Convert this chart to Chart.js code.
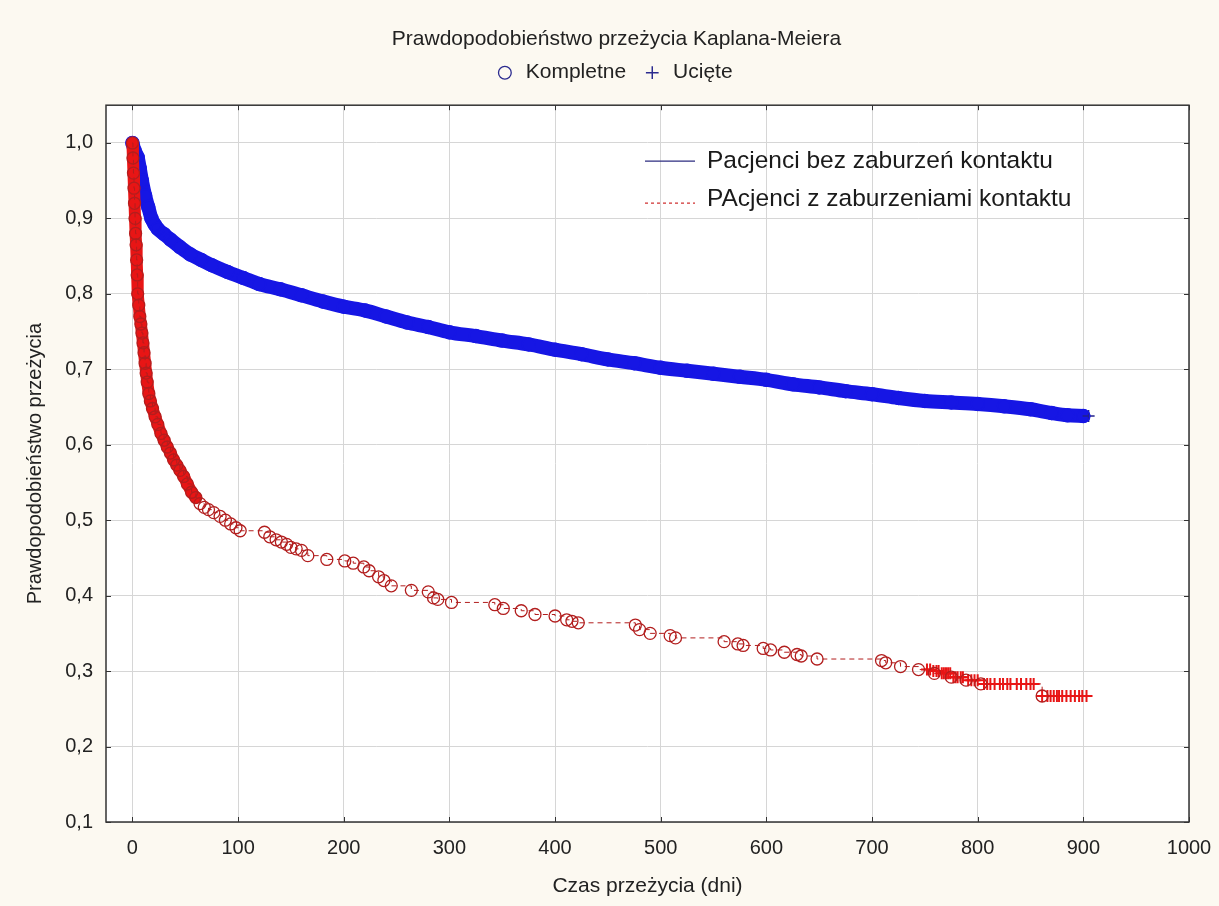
<!DOCTYPE html>
<html>
<head>
<meta charset="utf-8">
<script src="https://cdn.jsdelivr.net/npm/chart.js@4.4.1/dist/chart.umd.min.js"></script>
<style>
html,body{margin:0;padding:0;background:#fcf9f1;}
</style>
</head>
<body>
<canvas id="km" width="1219" height="906"></canvas>
<script>
// ===== DANE =====
const xTicks = [0,100,200,300,400,500,600,700,800,900,1000];
const yTicks = [0.1,0.2,0.3,0.4,0.5,0.6,0.7,0.8,0.9,1.0];

// pacjenci bez zaburzen kontaktu (niebieski)
const blueT = [0,2,5,7,9,12,15,18,21,24,30,36,45,55,65,75,90,105,120,140,160,180,200,220,240,260,280,300,325,350,375,400,425,450,475,500,525,550,575,600,625,650,675,700,725,750,775,800,825,850,870,885,900];
const blueS = [1.0,0.99,0.981,0.966,0.95,0.93,0.915,0.90,0.892,0.886,0.879,0.872,0.862,0.852,0.845,0.838,0.829,0.821,0.813,0.806,0.798,0.790,0.783,0.778,0.770,0.762,0.756,0.749,0.744,0.738,0.733,0.726,0.720,0.713,0.708,0.702,0.698,0.694,0.690,0.686,0.680,0.676,0.671,0.667,0.662,0.658,0.656,0.654,0.651,0.647,0.642,0.639,0.638];
const blueCensT = [905];
const blueCensS = [0.638];

// pacjenci z zaburzeniami kontaktu (czerwony) - zdarzenia
const redT = [0,0.5,1,1.5,2,2.5,3,3.5,4,4.5,5,6,7,8,9,10,11,12,13,14,15.5,17,19,21.5,24,27,30,33,36,39,42,45,48.5,52,56,60,64,68,72,77,83,88,93,98,102,
  125,130,136,141,146,150,155,160,166,184,201,209,219,224,233,238,245,264,280,285,289,302,343,351,368,381,400,411,416,422,476,480,490,509,514,560,573,578,597,604,617,629,633,648,709,713,727,744,759,775,789,803,861];
const redS = [1.0,0.98,0.96,0.94,0.92,0.90,0.88,0.865,0.845,0.825,0.80,0.785,0.77,0.76,0.748,0.735,0.722,0.708,0.695,0.683,0.668,0.658,0.648,0.637,0.627,0.615,0.606,0.597,0.589,0.580,0.573,0.566,0.558,0.548,0.537,0.530,0.522,0.517,0.514,0.510,0.505,0.500,0.495,0.490,0.486,
  0.484,0.478,0.474,0.471,0.468,0.464,0.462,0.460,0.453,0.448,0.446,0.443,0.438,0.433,0.425,0.420,0.413,0.407,0.405,0.397,0.395,0.391,0.388,0.383,0.380,0.375,0.373,0.368,0.366,0.364,0.361,0.355,0.350,0.347,0.344,0.339,0.336,0.334,0.330,0.328,0.325,0.322,0.320,0.316,0.314,0.311,0.306,0.302,0.297,0.292,0.288,0.283,0.267];
// ucięte (cenzurowane)
const redCensT = [752,755,758,761,763,766,768,770,772,774,777,779,781,784,786,791,794,797,800,806,809,812,816,821,824,828,831,837,841,846,850,853,861,866,869,872,875,877,880,884,888,892,896,899,903];
const redCensS = [0.302,0.302,0.300,0.300,0.300,0.297,0.297,0.297,0.297,0.297,0.292,0.292,0.292,0.292,0.292,0.288,0.288,0.288,0.288,0.283,0.283,0.283,0.283,0.283,0.283,0.283,0.283,0.283,0.283,0.283,0.283,0.283,0.267,0.267,0.267,0.267,0.267,0.267,0.267,0.267,0.267,0.267,0.267,0.267,0.267];

const FONT = "'Liberation Sans', Arial, sans-serif";
const BLUE = "#1616e4";
const RED = "#e81515";
const RED_DARK = "#b21e1e";

function pts(ts, ss){ return ts.map(function(t,i){ return {x:t, y:ss[i]}; }); }

let redAll = pts(redT, redS).concat(pts(redCensT, redCensS));
redAll.sort(function(a,b){ return a.x - b.x; });
let redBand = pts(redT, redS).filter(function(p){ return p.x <= 60; });
let blueAll = pts(blueT, blueS).concat(pts(blueCensT, blueCensS));

// osie bez dodatkowego marginesu na etykiety
function noPad(axis){
  axis.paddingLeft = 0; axis.paddingRight = 0;
  axis.paddingTop = 0; axis.paddingBottom = 0;
}

// ===== WTYCZKA: tlo, ramka, znaczniki, legenda w srodku =====
const frame = {
  id: "frame",
  beforeDraw: function(chart){
    let c = chart.ctx, a = chart.chartArea;
    c.save();
    c.fillStyle = "#fcf9f1";
    c.fillRect(0, 0, chart.width, chart.height);
    c.fillStyle = "#ffffff";
    c.fillRect(a.left, a.top, a.right - a.left, a.bottom - a.top);
    c.restore();
  },
  afterDraw: function(chart){
    let c = chart.ctx, a = chart.chartArea;
    let xs = chart.scales.x, ys = chart.scales.y;
    c.save();
    c.strokeStyle = "#333";
    c.lineWidth = 1.5;
    c.strokeRect(a.left, a.top, a.right - a.left, a.bottom - a.top);
    c.lineWidth = 1;
    c.beginPath();
    xTicks.forEach(function(v){
      let p = Math.round(xs.getPixelForValue(v)) + 0.5;
      c.moveTo(p, a.bottom); c.lineTo(p, a.bottom - 5);
      c.moveTo(p, a.top); c.lineTo(p, a.top + 5);
    });
    yTicks.forEach(function(v){
      let p = Math.round(ys.getPixelForValue(v)) + 0.5;
      c.moveTo(a.left, p); c.lineTo(a.left + 5, p);
      c.moveTo(a.right, p); c.lineTo(a.right - 5, p);
    });
    c.stroke();

    // legenda serii
    let lx = a.left + 539, ly1 = a.top + 56, ly2 = a.top + 94;
    c.strokeStyle = "#2c2c80";
    c.lineWidth = 1.3;
    c.beginPath(); c.moveTo(lx, ly1); c.lineTo(lx + 50, ly1); c.stroke();
    c.strokeStyle = "#d03030";
    c.setLineDash([3,3]);
    c.beginPath(); c.moveTo(lx, ly2 + 4); c.lineTo(lx + 50, ly2 + 4); c.stroke();
    c.setLineDash([]);
    c.fillStyle = "#1a1a1a";
    c.font = "24.5px " + FONT;
    c.textBaseline = "middle";
    c.fillText("Pacjenci bez zaburzeń kontaktu", lx + 62, ly1);
    c.fillText("PAcjenci z zaburzeniami kontaktu", lx + 62, ly2);
    c.restore();
  }
};

Chart.defaults.font.family = FONT;
Chart.defaults.color = "#222";

let chart = new Chart(document.getElementById("km"), {
  type: "scatter",
  data: {
    datasets: [
      { label:"red events", data: pts(redT, redS), pointStyle:"circle", pointRadius:6, pointBorderWidth:1.3,
        pointBorderColor:RED_DARK, pointBackgroundColor:"rgba(0,0,0,0)", showLine:false },
      { label:"red cens", data: pts(redCensT, redCensS), pointStyle:"cross", pointRadius:6, pointBorderWidth:2,
        pointBorderColor:RED, showLine:false },
      { label:"red line", data: redAll, showLine:true, stepped:true, borderDash:[5,4], borderColor:RED_DARK,
        borderWidth:1, pointRadius:0 },
      { label:"red band", data: redBand, showLine:true, borderColor:RED, borderWidth:12, pointRadius:0,
        borderCapStyle:"round", borderJoinStyle:"round" },
      { label:"blue events", data: pts(blueT, blueS), pointStyle:"circle", pointRadius:6.5, pointBorderWidth:1.5,
        pointBorderColor:BLUE, pointBackgroundColor:"rgba(0,0,0,0)", showLine:false },
      { label:"blue cens", data: pts(blueCensT, blueCensS), pointStyle:"cross", pointRadius:6, pointBorderWidth:1.5,
        pointBorderColor:"#20208a", showLine:false },
      { label:"blue band", data: pts(blueT, blueS), showLine:true, borderColor:BLUE, borderWidth:14, pointRadius:0,
        borderCapStyle:"round", borderJoinStyle:"round", cubicInterpolationMode:"monotone" },
      { label:"blue line", data: blueAll, showLine:true, stepped:true, borderColor:"#20208a", borderWidth:1, pointRadius:0 }
    ]
  },
  options: {
    responsive: false,
    animation: false,
    layout: { padding: { left:44, right:30, top:0, bottom:0 } },
    plugins: {
      title: {
        display: true,
        text: "Prawdopodobieństwo przeżycia Kaplana-Meiera",
        font: { size:21, weight:"normal" },
        color: "#222",
        padding: { top:27, bottom:0 }
      },
      legend: {
        display: true,
        onClick: null,
        labels: {
          usePointStyle: true,
          boxWidth: 9,
          boxHeight: 9,
          padding: 10,
          font: { size:21 },
          color: "#222",
          generateLabels: function(){
            return [
              { text:" Kompletne  ", pointStyle:"circle", strokeStyle:"#2b2b8f", fillStyle:"rgba(0,0,0,0)", lineWidth:1.3, fontColor:"#222", hidden:false },
              { text:" Ucięte", pointStyle:"cross", strokeStyle:"#2b2b8f", fillStyle:"#2b2b8f", lineWidth:1.5, fontColor:"#222", hidden:false }
            ];
          }
        }
      },
      tooltip: { enabled:false }
    },
    scales: {
      x: {
        type: "linear",
        min: -25,
        max: 1000,
        afterBuildTicks: function(axis){ axis.ticks = xTicks.map(function(v){ return {value:v}; }); },
        afterFit: function(axis){ axis.height = 84; noPad(axis); },
        grid: { color:"#d6d6d6", drawTicks:false },
        border: { display:false },
        ticks: { padding:14, font:{ size:20 }, color:"#222", callback: function(v){ return String(v); } },
        title: { display:true, text:"Czas przeżycia (dni)", font:{ size:21 }, color:"#222", padding:{ top:0, bottom:7 } }
      },
      xTop: {
        type: "linear",
        position: "top",
        min: -25,
        max: 1000,
        afterFit: function(axis){ axis.height = 12; noPad(axis); },
        grid: { display:false },
        border: { display:false },
        ticks: { display:false }
      },
      y: {
        type: "linear",
        min: 0.1,
        max: 1.05,
        afterBuildTicks: function(axis){ axis.ticks = yTicks.map(function(v){ return {value:v}; }); },
        afterFit: function(axis){ axis.width = 62; noPad(axis); },
        grid: { color:"#d6d6d6", drawTicks:false },
        border: { display:false },
        ticks: { padding:13, font:{ size:20 }, color:"#222", callback: function(v){ return v.toFixed(1).replace(".", ","); } },
        title: { display:true, text:"Prawdopodobieństwo przeżycia", font:{ size:20 }, color:"#222", padding:{ top:-21, bottom:-21 } }
      }
    }
  },
  plugins: [frame]
});
</script>
</body>
</html>
